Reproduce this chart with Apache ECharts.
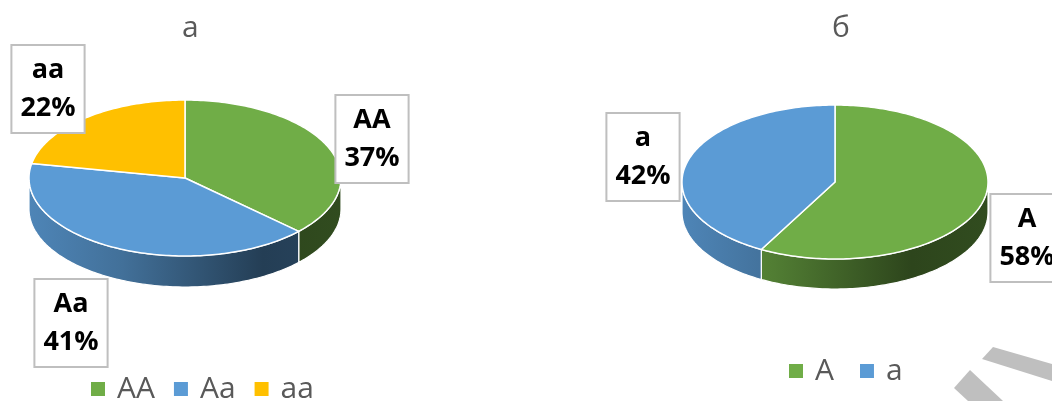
<!DOCTYPE html>
<html>
<head>
<meta charset="utf-8">
<script src="https://cdn.jsdelivr.net/npm/echarts@6/dist/echarts.min.js"></script>
<style>
  html, body { margin: 0; padding: 0; background: #fff; }
  #chart { width: 1052px; height: 401px; }
</style>
</head>
<body>
<div id="chart"></div>
<script>
// Genotype shares (left pie) and allele shares (right pie), in percent
const genotypeNames = ['AA', 'Aa', 'aa'];
const genotypeValues = [37, 41, 22];
const alleleNames = ['A', 'a'];
const alleleValues = [58, 42];
const pieTitles = ['а', 'б'];

// Slice colours
const genotypeColors = ['#70ad47', '#5b9bd5', '#ffc000'];
const alleleColors = ['#70ad47', '#5b9bd5'];

// Layout of each tilted pie: centre, radii of the top ellipse, wall depth,
// and where each data-label box sits relative to the centre.
const pies = [
  {
    names: genotypeNames, values: genotypeValues, colors: genotypeColors,
    cx: 185, cy: 178, rx: 156, ry: 78, depth: 31,
    labelOffsets: [[187, -39], [-114, 145], [-137, -89]]
  },
  {
    names: alleleNames, values: alleleValues, colors: alleleColors,
    cx: 835, cy: 182, rx: 153, ry: 77, depth: 30,
    labelOffsets: [[192, 56], [-192, -25]]
  }
];

function shade(hex, f) {
  const n = parseInt(hex.slice(1), 16);
  const r = Math.round(((n >> 16) & 255) * f);
  const g = Math.round(((n >> 8) & 255) * f);
  const b = Math.round((n & 255) * f);
  return 'rgb(' + r + ',' + g + ',' + b + ')';
}

// Point on the ellipse rim; angle measured clockwise from 12 o'clock
function rim(pie, a, dy) {
  return [pie.cx + pie.rx * Math.sin(a), pie.cy - pie.ry * Math.cos(a) + (dy || 0)];
}

function arcPoints(pie, a0, a1, dy) {
  const pts = [];
  const steps = Math.max(2, Math.ceil(Math.abs(a1 - a0) / 0.02));
  for (let i = 0; i <= steps; i++) {
    pts.push(rim(pie, a0 + (a1 - a0) * i / steps, dy));
  }
  return pts;
}

function sliceRenderer(pie, idx) {
  return function (params, api) {
    const total = pie.values.reduce((s, v) => s + v, 0);
    let before = 0;
    for (let k = 0; k < idx; k++) before += pie.values[k];
    const v = api.value(0);
    const a0 = before / total * Math.PI * 2;
    const a1 = (before + v) / total * Math.PI * 2;
    const color = pie.colors[idx];
    const children = [];

    // Front wall: only the part facing the viewer (right → bottom → left)
    const s = Math.max(a0, Math.PI / 2);
    const e = Math.min(a1, Math.PI * 1.5);
    if (e > s) {
      const top = arcPoints(pie, s, e, 0);
      const bottom = arcPoints(pie, e, s, pie.depth);
      children.push({
        type: 'polygon',
        shape: { points: top.concat(bottom) },
        style: {
          fill: new echarts.graphic.LinearGradient(
            pie.cx - pie.rx, 0, pie.cx + pie.rx, 0,
            [
              { offset: 0, color: shade(color, 0.86) },
              { offset: 0.3, color: shade(color, 0.72) },
              { offset: 0.75, color: shade(color, 0.4) },
              { offset: 1, color: shade(color, 0.44) }
            ], true),
          stroke: '#ffffff',
          lineWidth: 1.2
        }
      });
    }

    // Top face of the slice
    const face = [[pie.cx, pie.cy]].concat(arcPoints(pie, a0, a1, 0));
    children.push({
      type: 'polygon',
      shape: { points: face },
      style: { fill: color, stroke: '#ffffff', lineWidth: 1.5, lineJoin: 'round' }
    });

    // Data label: category name and percentage in a framed box
    const off = pie.labelOffsets[idx];
    children.push({
      type: 'text',
      x: pie.cx + off[0],
      y: pie.cy + off[1],
      z2: 50,
      style: {
        text: pie.names[idx] + '\n' + Math.round(v / total * 100) + '%',
        font: 'bold 27px "Open Sans"',
        fill: '#000000',
        align: 'center',
        verticalAlign: 'middle',
        lineHeight: 38,
        backgroundColor: '#ffffff',
        borderColor: '#bfbfbf',
        borderWidth: 2,
        padding: [5, 8]
      }
    });

    return { type: 'group', children: children };
  };
}

const series = [];
pies.forEach(function (pie) {
  pie.names.forEach(function (name, i) {
    series.push({
      type: 'custom',
      name: name,
      coordinateSystem: 'none',
      itemStyle: { color: pie.colors[i] },
      data: [pie.values[i]],
      renderItem: sliceRenderer(pie, i),
      silent: true
    });
  });
});

const titleStyle = { fontFamily: 'Open Sans', fontWeight: 'normal', fontSize: 30, color: '#595959' };
const legendText = { fontFamily: 'Open Sans', fontSize: 30, color: '#595959', padding: [0, 0, 0, 7] };

const chart = echarts.init(document.getElementById('chart'), null, { renderer: 'canvas' });
chart.setOption({
  backgroundColor: '#ffffff',
  animation: false,
  title: [
    { text: pieTitles[0], left: 177, top: 8, textStyle: titleStyle },
    { text: pieTitles[1], left: 827, top: 8, textStyle: titleStyle }
  ],
  legend: [
    {
      data: genotypeNames, left: 86, top: 369, icon: 'rect',
      itemWidth: 14, itemHeight: 14, itemGap: 19, textStyle: legendText
    },
    {
      data: alleleNames, left: 784, top: 351, icon: 'rect',
      itemWidth: 14, itemHeight: 14, itemGap: 26, textStyle: legendText
    }
  ],
  graphic: [
    { type: 'polygon', silent: true, shape: { points: [[993, 347], [1052, 364], [1052, 381], [982, 359]] },
      style: { fill: '#bfbfbf' } },
    { type: 'polygon', silent: true, shape: { points: [[970, 370], [1003, 401], [968, 401], [954, 388]] },
      style: { fill: '#bfbfbf' } }
  ],
  series: series
});
</script>
</body>
</html>
